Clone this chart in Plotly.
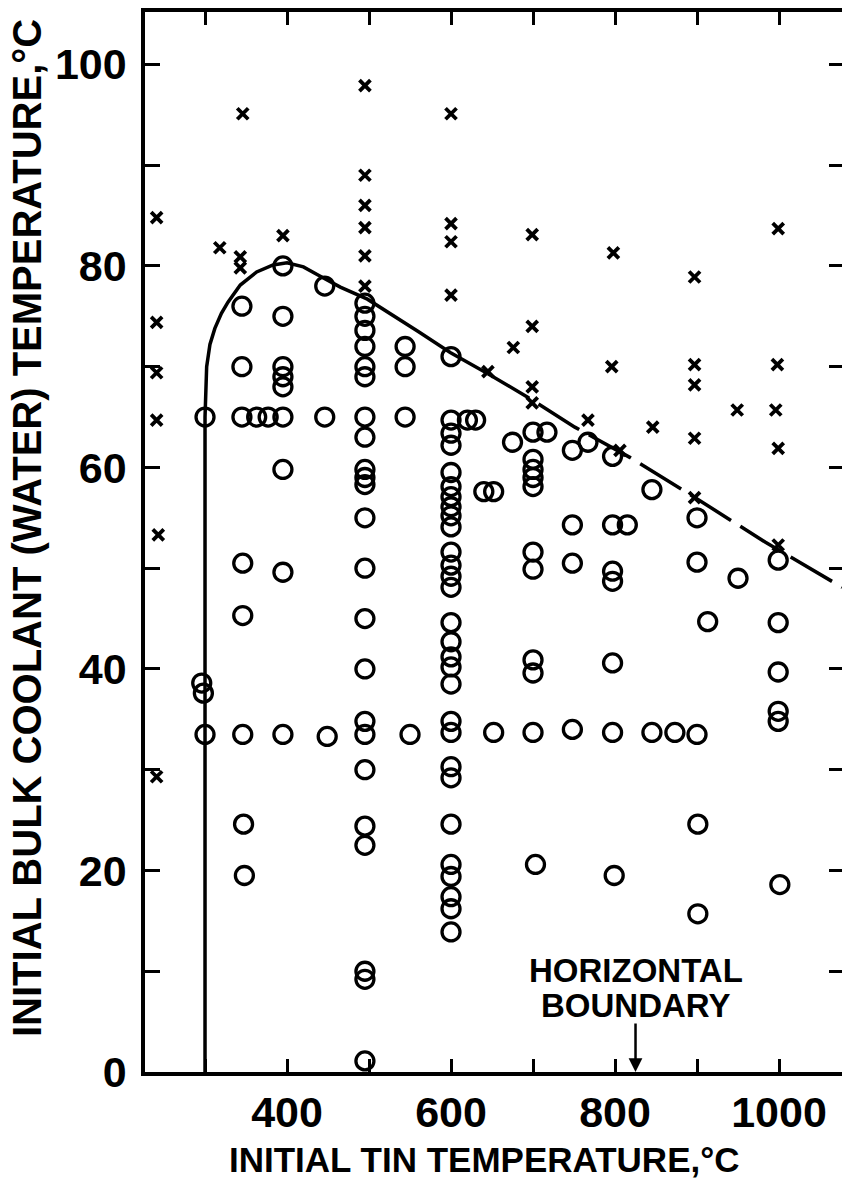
import plotly.graph_objects as go

# ---------------- data ----------------
# open circles: initial tin temperature (deg C) / initial water temperature (deg C)
circle_T = [296, 298, 300, 300,
            345, 345, 345, 346, 346, 346, 347, 348,
            363, 377,
            395, 395, 395, 395, 395, 395, 395, 395, 395,
            446, 446, 449,
            495, 495, 495, 495, 495, 495, 495, 495, 495, 495, 495, 495, 495, 495, 495,
            495, 495, 495, 495, 495, 495, 495, 495,
            544, 544, 544, 550,
            600, 600, 600, 600, 600, 600, 600, 600, 600, 600, 600, 600, 600, 600, 600,
            600, 600, 600, 600, 600, 600, 600, 600, 600, 600, 600, 600, 600, 600,
            620, 630, 640, 652, 652, 675,
            700, 700, 700, 700, 700, 700, 700, 700, 700, 700, 703,
            717,
            748, 748, 748, 748, 767,
            797, 797, 797, 797, 797, 797, 799, 815,
            845, 845, 873,
            900, 900, 900, 901, 901, 913, 950,
            999, 999, 999, 999, 999, 1001]
circle_W = [38.6, 37.6, 65, 33.5,
            76, 70, 65, 50.5, 45.3, 33.5, 24.6, 19.5,
            65, 65,
            80, 75, 70, 69, 68, 65, 59.8, 49.6, 33.5,
            78, 65, 33.3,
            76.3, 75, 73.6, 72, 70, 69, 65, 63, 59.8, 59, 58.3, 55, 50, 45, 40,
            34.8, 33.5, 30, 24.4, 22.5, 10, 9.2, 1.1,
            72, 70, 65, 33.5,
            71, 64.7, 63.4, 62.2, 59.5, 58.1, 57.1, 56.1, 55.2, 54.1, 51.6, 50.3, 49.2, 48.1, 44.6,
            42.7, 41.2, 40.2, 38.5, 34.8, 33.7, 30.3, 29.2, 24.6, 20.6, 19.4, 17.4, 16.2, 13.9,
            64.7, 64.7, 57.6, 57.6, 33.7, 62.5,
            63.5, 60.8, 59.8, 59, 58.1, 51.6, 49.9, 40.9, 39.6, 33.7, 20.6,
            63.5,
            61.7, 54.3, 50.5, 34, 62.5,
            61.1, 54.3, 49.7, 48.7, 40.6, 33.7, 19.5, 54.3,
            57.8, 33.7, 33.7,
            55, 50.6, 33.5, 24.6, 15.7, 44.7, 49,
            50.8, 44.6, 39.7, 35.8, 34.8, 18.6]

# crosses
cross_T = [241, 241, 241, 241, 243, 241,
           318, 343, 343, 346, 395,
           495, 495, 495, 495, 495, 495,
           600, 600, 600, 600,
           645, 676, 699, 699, 699, 699,
           767, 798, 796, 806, 846,
           897, 897, 897, 897, 897,
           949, 999, 998, 996, 999, 999]
cross_W = [84.8, 74.4, 69.4, 64.7, 53.3, 29.3,
           81.8, 80.9, 79.8, 95.1, 83,
           97.9, 89, 86, 83.8, 81, 78,
           95.1, 84.2, 82.4, 77.1,
           69.5, 71.9, 68, 66.4, 83.1, 74,
           64.7, 81.3, 70, 61.7, 64,
           78.9, 70.2, 68.2, 62.9, 57,
           65.7, 83.7, 70.2, 65.7, 61.9, 52.3]

# boundary curve (solid part, then dashed part)
bound_solid_T = [300, 300, 302, 306, 312, 320, 328, 343, 363, 383, 400, 420, 440,
                 465, 498, 522, 560, 599, 645]
bound_solid_W = [0, 65, 70, 72.2, 73.8, 75.3, 76.4, 78.1, 79.4, 80.1, 80.3, 79.9, 79.0,
                 77.9, 76.7, 75.5, 73.5, 71.4, 69.3]
bound_dash_T = [645, 693, 751, 818, 888, 983, 1077]
bound_dash_W = [69.3, 67.0, 64.0, 61.0, 57.5, 52.6, 48.1]

x_tick_vals = [300, 400, 500, 600, 700, 800, 900, 1000]
x_tick_text = ["", "400", "", "600", "", "800", "", "1000"]
y_tick_vals = [0, 10, 20, 30, 40, 50, 60, 70, 80, 90, 100]
y_tick_text = ["0", "", "20", "", "40", "", "60", "", "80", "", "100"]

x_title = "INITIAL TIN TEMPERATURE,°C"
y_title = "INITIAL BULK COOLANT (WATER) TEMPERATURE,°C"
note_lines = ["HORIZONTAL", "BOUNDARY"]
note_T = 825

# ---------------- figure ----------------
FONT = "Liberation Sans, Arial, Helvetica, sans-serif"
X_RANGE = [226.8, 1076.8]
Y_RANGE = [0, 105.2]

fig = go.Figure()

fig.add_trace(go.Scatter(x=bound_solid_T, y=bound_solid_W, mode="lines",
                         line=dict(color="black", width=3.5), hoverinfo="skip"))
fig.add_trace(go.Scatter(x=bound_dash_T, y=bound_dash_W, mode="lines",
                         line=dict(color="black", width=3.5, dash="48px,11px"),
                         hoverinfo="skip"))
fig.add_trace(go.Scatter(x=circle_T, y=circle_W, mode="markers",
                         marker=dict(symbol="circle-open", size=18, color="black",
                                     line=dict(color="black", width=3.3))))
fig.add_trace(go.Scatter(x=cross_T, y=cross_W, mode="markers",
                         marker=dict(symbol="x-thin", size=11, color="black",
                                     line=dict(color="black", width=3.8))))
# invisible trace on right axis (for right-side tick marks)
fig.add_trace(go.Scatter(x=[X_RANGE[0]], y=[Y_RANGE[0]], yaxis="y2", mode="markers",
                         marker=dict(opacity=0), hoverinfo="skip"))

tickfont = dict(family=FONT, size=43, color="black", weight="bold")

fig.update_layout(
    width=842, height=1200,
    margin=dict(l=145, r=0, t=12, b=128),
    paper_bgcolor="white", plot_bgcolor="white",
    showlegend=False,
    xaxis=dict(range=X_RANGE, tickvals=x_tick_vals, ticktext=x_tick_text,
               ticks="inside", ticklen=13, tickwidth=3, tickcolor="black",
               showline=True, linewidth=3.5, linecolor="black", mirror="ticks",
               showgrid=False, zeroline=False, tickfont=tickfont,
               ticklabelstandoff=0),
    yaxis=dict(range=Y_RANGE, tickvals=y_tick_vals, ticktext=y_tick_text,
               ticks="inside", ticklen=15, tickwidth=3, tickcolor="black",
               showline=True, linewidth=3.5, linecolor="black",
               showgrid=False, zeroline=False, tickfont=tickfont,
               ticklabelstandoff=6),
    yaxis2=dict(range=Y_RANGE, overlaying="y", side="right",
                tickvals=y_tick_vals[1:], showticklabels=False,
                ticks="inside", ticklen=13, tickwidth=3, tickcolor="black",
                showline=False, showgrid=False, zeroline=False),
)

# axis titles
fig.add_annotation(text=x_title, xref="paper", yref="paper",
                   x=(484 - 145) / 697, y=(1072 - 1159) / 1060,
                   xanchor="center", yanchor="middle", showarrow=False,
                   font=dict(family=FONT, size=35, color="black", weight="bold"))
fig.add_annotation(text=y_title, xref="paper", yref="paper",
                   x=(27 - 145) / 697, y=(1072 - 528) / 1060,
                   xanchor="center", yanchor="middle", showarrow=False, textangle=-90,
                   font=dict(family=FONT, size=40, color="black", weight="bold"))

# horizontal boundary note with arrow
fig.add_annotation(text=note_lines[0], x=note_T, y=(1072 - 970) / 10.08,
                   xref="x", yref="y", showarrow=False, xanchor="center", yanchor="middle",
                   font=dict(family=FONT, size=33, color="black", weight="bold"))
fig.add_annotation(text=note_lines[1], x=note_T, y=(1072 - 1005) / 10.08,
                   xref="x", yref="y", showarrow=False, xanchor="center", yanchor="middle",
                   font=dict(family=FONT, size=33, color="black", weight="bold"))
fig.add_annotation(text="", x=note_T, y=0, xref="x", yref="y",
                   showarrow=True, ax=0, ay=-50, arrowhead=2, arrowsize=1.1,
                   arrowwidth=2.5, arrowcolor="black")

fig.write_html("out.html")
